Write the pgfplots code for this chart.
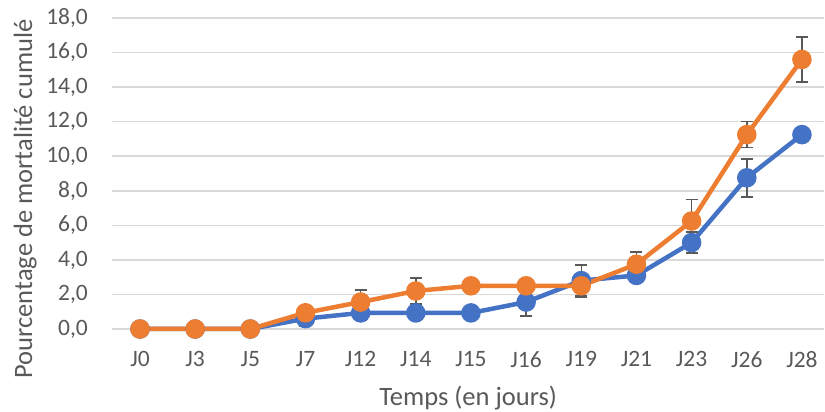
\documentclass[border=0pt]{standalone}
\usepackage{fontspec}
\setmainfont{Carlito}
\usepackage{pgfplots}
\pgfplotsset{compat=1.18}
\definecolor{cblue}{HTML}{4472C4}
\definecolor{corange}{HTML}{ED7D31}
\definecolor{cgrid}{HTML}{D9D9D9}
\definecolor{ctext}{HTML}{595959}
\definecolor{cerr}{HTML}{595959}
\begin{document}
\begin{tikzpicture}[x=1pt,y=1pt]
\begin{axis}[
  at={(0,0)}, anchor=south west,
  scale only axis, width=711.6pt, height=311pt,
  xmin=-0.5, xmax=12.4, ymin=0, ymax=18,
  xtick=data,
  xticklabels={J0,J3,J5,J7,J12,J14,J15,J16,J19,J21,J23,J26,J28},
  ytick={0,2,...,18},
  axis line style={draw=none},
  major tick length=0pt,
  ymajorgrids, grid style={cgrid, line width=1.5pt},
  tick label style={font=\fontsize{23.5}{27}\selectfont, text=ctext},
  /pgf/number format/assume math mode=true,
  yticklabel={\pgfmathprintnumber[fixed,fixed zerofill,precision=1,use comma]{\tick}},
  yticklabel shift=21pt,
  xticklabel shift=19pt,
  xlabel={Temps (en jours)},
  ylabel={Pourcentage de mortalité cumulé},
  label style={font=\fontsize{26.5}{30}\selectfont, text=ctext},
  xlabel style={at={(axis description cs:0.5,-0.222)}, anchor=center},
  ylabel style={at={(axis description cs:-0.1225,0.418)}, anchor=center},
  clip=false,
]
\addplot[cblue, line width=4.5pt, mark=*, mark size=7.5pt,
  error bars/.cd, y dir=both, y explicit,
  error bar style={cerr, line width=1.5pt},
  error mark options={rotate=90, mark size=6pt, cerr, line width=1.5pt}]
  table[x=x, y=y, y error=e] {
x y e
0 0 0
1 0 0
2 0 0
3 0.6 0.45
4 0.93 0.4
5 0.93 0
6 0.93 0
7 1.56 0.8
8 2.8 0.9
9 3.1 0
10 5.0 0.6
11 8.75 1.1
12 11.25 0
};
\addplot[corange, line width=4.5pt, mark=*, mark size=7.5pt,
  error bars/.cd, y dir=both, y explicit,
  error bar style={cerr, line width=1.5pt},
  error mark options={rotate=90, mark size=6pt, cerr, line width=1.5pt}]
  table[x=x, y=y, y error=e] {
x y e
0 0 0
1 0 0
2 0 0
3 0.94 0
4 1.56 0.7
5 2.2 0.75
6 2.5 0.35
7 2.5 0
8 2.5 0.65
9 3.75 0.7
10 6.25 1.25
11 11.25 0.75
12 15.6 1.3
};
\end{axis}
\pgfresetboundingbox
\useasboundingbox (-112.4,-83) rectangle (712.6,329);
\end{tikzpicture}
\end{document}
